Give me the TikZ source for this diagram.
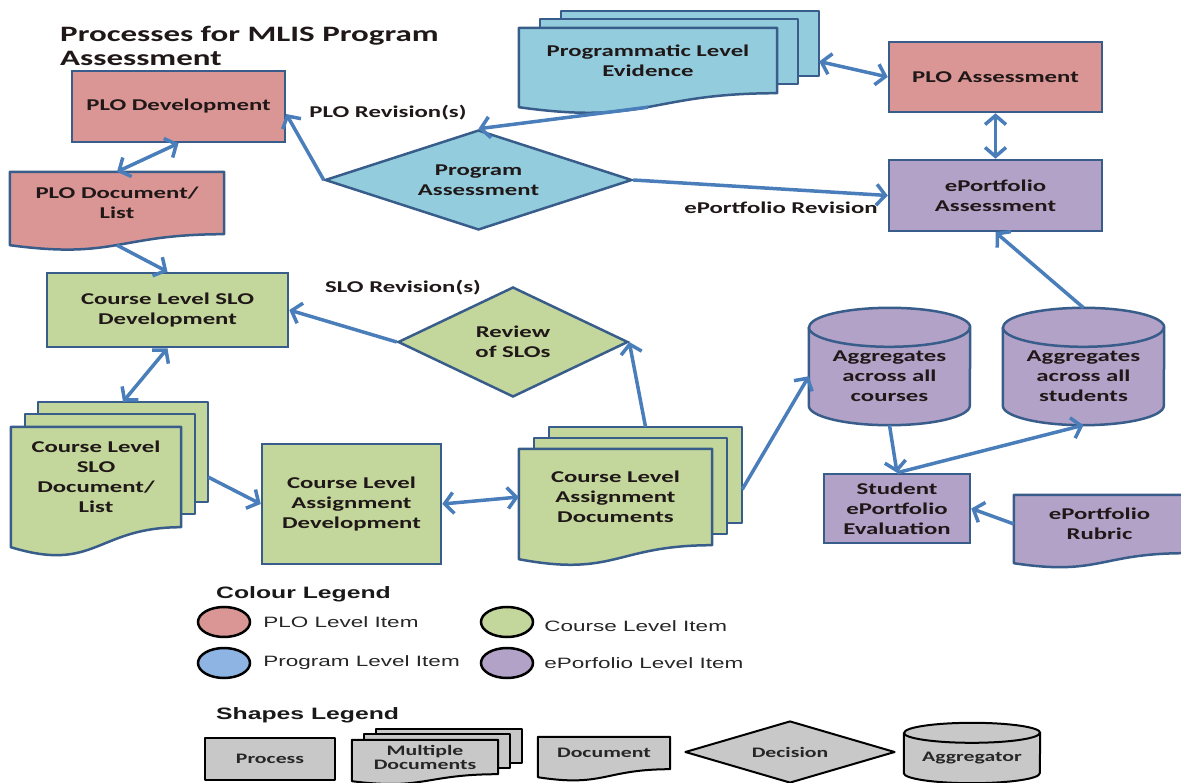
\documentclass[tikz,border=0pt]{standalone}
\usepackage{fontspec}
\setmainfont{Carlito}[FakeStretch=1.5]
\newfontfamily\legendfont{Liberation Sans}[FakeStretch=1.5]
\usetikzlibrary{arrows.meta,positioning,shapes.geometric,calc,backgrounds}

\definecolor{plored}{RGB}{217,150,148}
\definecolor{progblue}{RGB}{147,205,221}
\definecolor{legblue}{RGB}{142,180,227}
\definecolor{coursegreen}{RGB}{195,214,155}
\definecolor{eppurple}{RGB}{179,162,199}
\definecolor{edgeblue}{RGB}{56,93,138}
\definecolor{arrowblue}{RGB}{74,126,187}
\definecolor{inkdark}{RGB}{32,24,24}
\definecolor{legfill}{RGB}{200,200,200}

% outlines drawn round a named node
\newcommand{\drawsheet}[2]{\draw[#2] (#1.north west) rectangle (#1.south east);}
\newcommand{\drawdoc}[3]{\draw[#3] (#1.north west) -- (#1.north east) -- (#1.south east)
	.. controls (#1.south) and ($(#1.south)+(0,-2.3*#2)$) .. ($(#1.south west)+(0,-#2)$) -- cycle;}
\newcommand{\drawcyl}[4]{\draw[#4] (#1.north west) -- ($(#1.south west)+(0,#3)$)
	arc[start angle=180, end angle=360, x radius=#2, y radius=#3] -- (#1.north east)
	arc[start angle=0, end angle=180, x radius=#2, y radius=#3] -- cycle;
	\draw[#4, fill=none] (#1.north west) arc[start angle=180, end angle=360, x radius=#2, y radius=#3];}

\begin{document}
\begin{tikzpicture}[x=1pt, y=1pt,
	txt/.style={font=\bfseries\fontsize{16.5}{20}\selectfont, text=inkdark, align=center, inner sep=0pt},
	proc/.style={txt, rectangle, draw=edgeblue, line width=2.5pt},
	area/.style={txt, rectangle},
	choice/.style={txt, diamond, draw=edgeblue, line width=2.5pt},
	outline/.style={draw=edgeblue, line width=2.5pt, line join=round},
	arr/.style={draw=arrowblue, line width=3.5pt, -{Straight Barb[length=9pt,width=21pt]}},
	both/.style={arr, {Straight Barb[length=9pt,width=21pt]}-{Straight Barb[length=9pt,width=21pt]}},
	lbl/.style={font=\bfseries\fontsize{16.5}{20}\selectfont, text=inkdark, inner sep=0pt},
	legtitle/.style={font=\legendfont\bfseries\fontsize{16.5}{20}\selectfont, text=black!90, inner sep=0pt, anchor=base west},
	legcirc/.style={ellipse, draw=black, line width=2.5pt, minimum width=52pt, minimum height=30pt, inner sep=0pt},
	legtxt/.style={font=\legendfont\fontsize{15}{18}\selectfont, text=black!85, inner sep=0pt},
	legtext/.style={font=\bfseries\fontsize{14.5}{14}\selectfont, text=black!85, align=center, inner sep=0pt},
	legline/.style={draw=black, line width=2pt, line join=round, fill=legfill}]
	\useasboundingbox (0,0) rectangle (1181,-783);
	
	% Title
	\node[font=\bfseries\fontsize{22}{24}\selectfont, text=inkdark, align=left, inner sep=0pt, anchor=base west] (title) at (60,-66) {Processes for MLIS Program\\Assessment};
	
	% PLO level
	\node[proc, fill=plored, minimum width=213pt, minimum height=71pt] (plodev) at (178.5,-106.5) {PLO Development};
	\node[area, minimum width=214pt, minimum height=62pt] (plodoc) at (117,-203) {PLO Document/\\List};
	\node[proc, fill=plored, minimum width=213pt, minimum height=70pt] (ploa) at (995.5,-77) {PLO Assessment};
	
	% Program level
	\node[area, minimum width=258pt, minimum height=65pt] (ped) at (648,-60.5) {Programmatic Level\\Evidence};
	\node[area, minimum width=258pt, minimum height=65pt] (ped-2) at ($(ped)+(21,9)$) {};
	\node[area, minimum width=258pt, minimum height=65pt] (ped-3) at ($(ped)+(42,17)$) {};
	\node[choice, fill=progblue, aspect=3.07, minimum width=307pt, minimum height=100pt] (pa) at (478.5,-180) {Program\\Assessment};
	
	% Course level
	\node[proc, fill=coursegreen, minimum width=241pt, minimum height=74pt] (sdev) at (167.5,-310) {Course Level SLO\\Development};
	\node[choice, fill=coursegreen, aspect=2.09, minimum width=230pt, minimum height=110pt] (review) at (513,-342) {Review\\of SLOs};
	\node[area, minimum width=170pt, minimum height=100pt] (sdoc) at (96,-477) {Course Level\\SLO\\Document/\\List};
	\node[area, minimum width=170pt, minimum height=100pt] (sdoc-2) at ($(sdoc)+(14,13)$) {};
	\node[area, minimum width=170pt, minimum height=100pt] (sdoc-3) at ($(sdoc)+(27,25)$) {};
	\node[proc, fill=coursegreen, minimum width=179pt, minimum height=120pt] (adev) at (351.5,-504) {Course Level\\Assignment\\Development};
	\node[area, minimum width=193pt, minimum height=96pt] (adoc) at (615.5,-497) {Course Level\\Assignment\\Documents};
	\node[area, minimum width=193pt, minimum height=96pt] (adoc-2) at ($(adoc)+(15,11)$) {};
	\node[area, minimum width=193pt, minimum height=96pt] (adoc-3) at ($(adoc)+(30,22)$) {};
	
	% ePortfolio level
	\node[proc, fill=eppurple, minimum width=213pt, minimum height=71pt] (epa) at (995.5,-195.5) {ePortfolio\\Assessment};
	\node[area, minimum width=161pt, minimum height=97.5pt] (aggc) at (889.5,-376.25) {Aggregates\\across all\\courses};
	\node[area, minimum width=161pt, minimum height=97.5pt] (aggs) at (1083.5,-376.25) {Aggregates\\across all\\students};
	\node[proc, fill=eppurple, minimum width=146pt, minimum height=69pt] (speval) at (897,-508.5) {Student\\ePortfolio\\Evaluation};
	\node[area, minimum width=171pt, minimum height=58pt] (rubric) at (1099.5,-524) {ePortfolio\\Rubric};
	
	% Shapes behind the texts
	\begin{scope}[on background layer]
		\drawsheet{ped-3}{outline, fill=progblue}
		\drawsheet{ped-2}{outline, fill=progblue}
		\drawdoc{ped}{14}{outline, fill=progblue}
		\drawdoc{plodoc}{11}{outline, fill=plored}
		\drawsheet{sdoc-3}{outline, fill=coursegreen}
		\drawsheet{sdoc-2}{outline, fill=coursegreen}
		\drawdoc{sdoc}{20}{outline, fill=coursegreen}
		\drawsheet{adoc-3}{outline, fill=coursegreen}
		\drawsheet{adoc-2}{outline, fill=coursegreen}
		\drawdoc{adoc}{14}{outline, fill=coursegreen}
		\drawcyl{aggc}{80.5}{19.5}{outline, fill=eppurple}
		\drawcyl{aggs}{80.5}{19.5}{outline, fill=eppurple}
		\drawdoc{rubric}{10}{outline, fill=eppurple}
	\end{scope}
	
	% Connectors
	\coordinate (plodoc-w) at ($(plodoc.south)+(0,-11)$);
	\coordinate (ped-w) at ($(ped.south)+(0,-14)$);
	\coordinate (aggs-top) at ($(aggs.north)+(0,19.5)$);
	\draw[both] (plodev.south) -- (plodoc.north);
	\draw[arr] (plodoc-w) -- (sdev.north);
	\draw[arr] (pa.west) -- (plodev.-4);
	\draw[arr] (ped-w) -- (pa.north);
	\draw[both] ($(ped-3.east)!0.55!(ped-3.south east)$) -- (ploa.west);
	\draw[both] (ploa.south) -- (epa.north);
	\draw[arr] (pa.east) -- (epa.west);
	\draw[arr] (review.west) -- (sdev.east);
	\draw[both] (sdev.south) -- (sdoc-3.north);
	\draw[arr] ($(sdoc-3.east)!0.5!(sdoc-3.south east)$) -- (adev.west);
	\draw[both] (adev.east) -- (adoc.west);
	\draw[arr] (adoc-3.north) -- (review.east);
	\draw[arr] ($(adoc-3.east)!0.3!(adoc-3.south east)$) -- (aggc.west);
	\draw[arr] (aggc.south) -- (speval.north);
	\draw[arr] (speval.north) -- (aggs.south);
	\draw[arr] (aggs-top) -- (epa.south);
	\draw[arr] (rubric.west) -- (speval.east);
	
	% Connector labels
	\node[lbl] (plorev) at (388,-113) {PLO Revision(s)};
	\node[lbl] (slorev) at (403,-288) {SLO Revision(s)};
	\node[lbl] (eprev) at (781,-208) {ePortfolio Revision};
	
	% Colour legend
	\node[legtitle] (coltitle) at (216,-598) {Colour Legend};
	\node[legcirc, fill=plored] (leg-plo) at (224,-622) {};
	\node[legcirc, fill=legblue] (leg-prog) at (224,-663) {};
	\node[legcirc, fill=coursegreen] (leg-course) at (507,-622) {};
	\node[legcirc, fill=eppurple] (leg-ep) at (507,-663) {};
	\node[legtxt, right=12pt of leg-plo] (leg-plo-t) {PLO Level Item};
	\node[legtxt, right=12pt of leg-prog] (leg-prog-t) {Program Level Item};
	\node[legtxt, right=10pt of leg-course, yshift=-4pt] (leg-course-t) {Course Level Item};
	\node[legtxt, right=10pt of leg-ep] (leg-ep-t) {ePorfolio Level Item};
	
	% Shapes legend
	\node[legtitle] (shptitle) at (216,-719) {Shapes Legend};
	\node[legtext, legline, minimum width=130pt, minimum height=42pt] (leg-proc) at (270,-759) {Process};
	\node[legtext, minimum width=146pt, minimum height=34pt] (leg-mdoc) at (425,-757) {Multiple\\Documents};
	\node[legtext, minimum width=146pt, minimum height=34pt] (leg-mdoc-2) at ($(leg-mdoc)+(12,6)$) {};
	\node[legtext, minimum width=146pt, minimum height=34pt] (leg-mdoc-3) at ($(leg-mdoc)+(24,11)$) {};
	\node[legtext, minimum width=132pt, minimum height=32pt] (leg-doc) at (604,-753) {Document};
	\node[legtext, legline, diamond, aspect=3.39, minimum width=210pt, minimum height=62pt] (leg-dec) at (790,-752) {Decision};
	\node[legtext, minimum width=136pt, minimum height=50pt] (leg-agg) at (972,-758) {Aggregator};
	\begin{scope}[on background layer]
		\drawsheet{leg-mdoc-3}{legline}
		\drawsheet{leg-mdoc-2}{legline}
		\drawdoc{leg-mdoc}{7}{legline}
		\drawdoc{leg-doc}{8}{legline}
		\drawcyl{leg-agg}{68}{10}{legline}
	\end{scope}
\end{tikzpicture}
\end{document}
